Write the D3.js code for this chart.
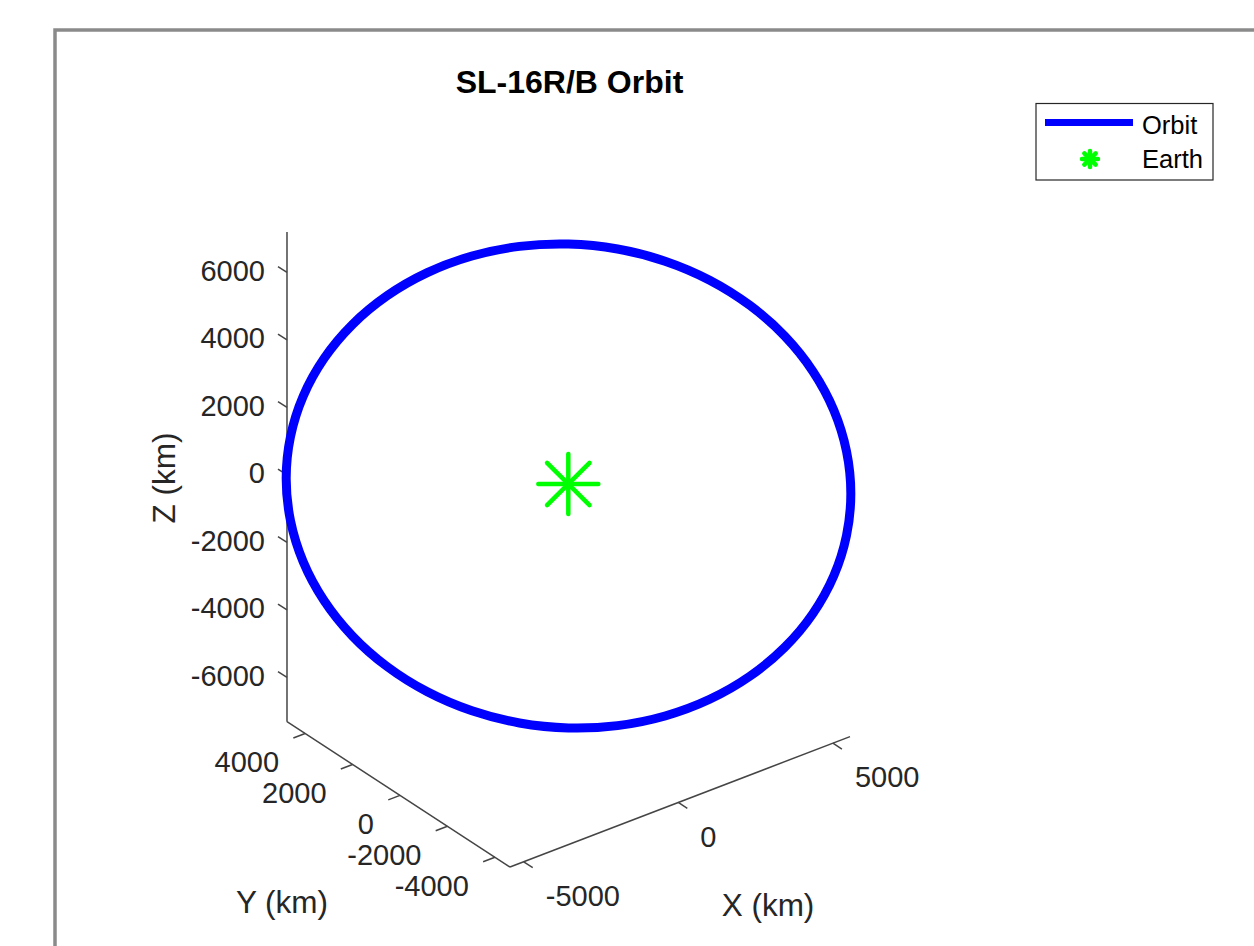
<!DOCTYPE html>
<html>
<head>
<meta charset="utf-8">
<script src="https://cdn.jsdelivr.net/npm/d3@7"></script>
<style>
  body { margin: 0; background: #fff; }
  text { font-family: "Liberation Sans", Arial, Helvetica, sans-serif; fill: #262626; }
</style>
</head>
<body>
<svg id="chart" width="1254" height="946"></svg>
<script>
// orbit samples, every 10 deg along the track (km)
var orbitX = [55, 1012, 1940, 2812, 3599, 4278, 4829, 5236, 5484, 5568, 5484, 5236,
              4829, 4278, 3599, 2812, 1940, 1012, 55, -902, -1830, -2702, -3489, -4168,
              -4719, -5126, -5374, -5458, -5374, -5126, -4719, -4168, -3489, -2702, -1830, -902];
var orbitY = [63, -756, -1550, -2295, -2968, -3549, -4021, -4369, -4581, -4653, -4581, -4369,
              -4021, -3549, -2968, -2295, -1550, -756, 63, 882, 1676, 2421, 3094, 3675,
              4147, 4495, 4707, 4779, 4707, 4495, 4147, 3675, 3094, 2421, 1676, 882];
var orbitZ = [7063, 6954, 6631, 6102, 5385, 4502, 3478, 2345, 1138, -107, -1352, -2559,
              -3692, -4716, -5599, -6316, -6845, -7168, -7277, -7168, -6845, -6316, -5599, -4716,
              -3692, -2559, -1352, -107, 1138, 2345, 3478, 4502, 5385, 6102, 6631, 6954];
var earthPos = [0, 0, 0];

var xTicks = [-5000, 0, 5000];
var yTicks = [-4000, -2000, 0, 2000, 4000];
var zTicks = [-6000, -4000, -2000, 0, 2000, 4000, 6000];
var xLim = [-5444, 5553];
var yLim = [-4637, 4763];
var zLim = [-7312, 7200];
var legendNames = ["Orbit", "Earth"];

var svg = d3.select("#chart");

// figure frame
svg.append("rect")
  .attr("x", 55).attr("y", 30)
  .attr("width", 1300).attr("height", 1000)
  .attr("fill", "none")
  .attr("stroke", "#8a8a8a")
  .attr("stroke-width", 3.5);

// default matlab 3d view
var az = -37.5 * Math.PI / 180, el = 30 * Math.PI / 180;
var k = d3.scaleLinear().domain([0, 1000]).range([0, 38.97]);
var cx = 568.3, cy = 484;
function proj(x, y, z) {
  var sx = Math.cos(az) * x + Math.sin(az) * y;
  var sy = -Math.sin(el) * Math.sin(az) * x + Math.sin(el) * Math.cos(az) * y + Math.cos(el) * z;
  return [cx + k(sx), cy - k(sy)];
}
var tickLen = 380;
var axisColor = "#454545";

function seg(a, b) {
  svg.append("line")
    .attr("x1", a[0]).attr("y1", a[1])
    .attr("x2", b[0]).attr("y2", b[1])
    .attr("stroke", axisColor)
    .attr("stroke-width", 1.5);
}

// axis lines
seg(proj(xLim[0], yLim[1], zLim[0]), proj(xLim[0], yLim[1], zLim[1]));
seg(proj(xLim[0], yLim[0], zLim[0]), proj(xLim[0], yLim[1], zLim[0]));
seg(proj(xLim[0], yLim[0], zLim[0]), proj(xLim[1], yLim[0], zLim[0]));

var tickFont = 29;

// z ticks
zTicks.forEach(function(t) {
  var p = proj(xLim[0], yLim[1], t);
  seg(p, proj(xLim[0], yLim[1] + tickLen, t));
  svg.append("text")
    .attr("x", p[0] - 22).attr("y", p[1] - 2)
    .attr("dy", "0.35em")
    .attr("text-anchor", "end")
    .attr("font-size", tickFont)
    .text(t);
});

// y ticks
yTicks.forEach(function(t) {
  var p = proj(xLim[0], t, zLim[0]);
  seg(p, proj(xLim[0] - tickLen, t, zLim[0]));
  svg.append("text")
    .attr("x", p[0] - 26).attr("y", p[1] + 28.5)
    .attr("dy", "0.35em")
    .attr("text-anchor", "end")
    .attr("font-size", tickFont)
    .text(t);
});

// x ticks
xTicks.forEach(function(t) {
  var p = proj(t, yLim[0], zLim[0]);
  seg(p, proj(t, yLim[0] - tickLen, zLim[0]));
  svg.append("text")
    .attr("x", p[0] + 22).attr("y", p[1] + 34)
    .attr("dy", "0.35em")
    .attr("text-anchor", "start")
    .attr("font-size", tickFont)
    .text(t);
});

// axis labels
svg.append("text")
  .attr("transform", "translate(164,478) rotate(-90)")
  .attr("dy", "0.35em")
  .attr("text-anchor", "middle")
  .attr("font-size", 31.5)
  .text("Z (km)");
svg.append("text")
  .attr("x", 282).attr("y", 902)
  .attr("dy", "0.35em")
  .attr("text-anchor", "middle")
  .attr("font-size", 31.5)
  .text("Y (km)");
svg.append("text")
  .attr("x", 768).attr("y", 905)
  .attr("dy", "0.35em")
  .attr("text-anchor", "middle")
  .attr("font-size", 31.5)
  .text("X (km)");

// title
svg.append("text")
  .attr("x", 569.5).attr("y", 82)
  .attr("dy", "0.35em")
  .attr("text-anchor", "middle")
  .attr("font-size", 32)
  .attr("font-weight", "bold")
  .style("fill", "#000")
  .text("SL-16R/B Orbit");

// orbit
var pts = orbitX.map(function(d, i) { return proj(orbitX[i], orbitY[i], orbitZ[i]); });
svg.append("path")
  .datum(pts)
  .attr("d", d3.line().curve(d3.curveCatmullRomClosed))
  .attr("fill", "none")
  .attr("stroke", "#0000ff")
  .attr("stroke-width", 9)
  .attr("stroke-linejoin", "round");

// earth marker (*)
function star(c, r, w) {
  for (var a = 0; a < 4; a++) {
    var ang = a * Math.PI / 4;
    svg.append("line")
      .attr("x1", c[0] - r * Math.cos(ang)).attr("y1", c[1] - r * Math.sin(ang))
      .attr("x2", c[0] + r * Math.cos(ang)).attr("y2", c[1] + r * Math.sin(ang))
      .attr("stroke", "#00ff00")
      .attr("stroke-width", w)
      .attr("stroke-linecap", "round");
  }
}
star(proj(earthPos[0], earthPos[1], earthPos[2]), 30, 4.5);

// legend
var lg = svg.append("g");
lg.append("rect")
  .attr("x", 1036).attr("y", 103.5)
  .attr("width", 177).attr("height", 76.5)
  .attr("fill", "#fff")
  .attr("stroke", "#262626")
  .attr("stroke-width", 1.2);
lg.append("line")
  .attr("x1", 1045).attr("x2", 1133)
  .attr("y1", 122.5).attr("y2", 122.5)
  .attr("stroke", "#0000ff")
  .attr("stroke-width", 7);
star([1090, 159], 8, 4.5);
legendNames.forEach(function(n, i) {
  lg.append("text")
    .attr("x", 1142).attr("y", 125 + i * 34)
    .attr("dy", "0.35em")
    .attr("font-size", 25.5)
    .style("fill", "#000")
    .text(n);
});
</script>
</body>
</html>
